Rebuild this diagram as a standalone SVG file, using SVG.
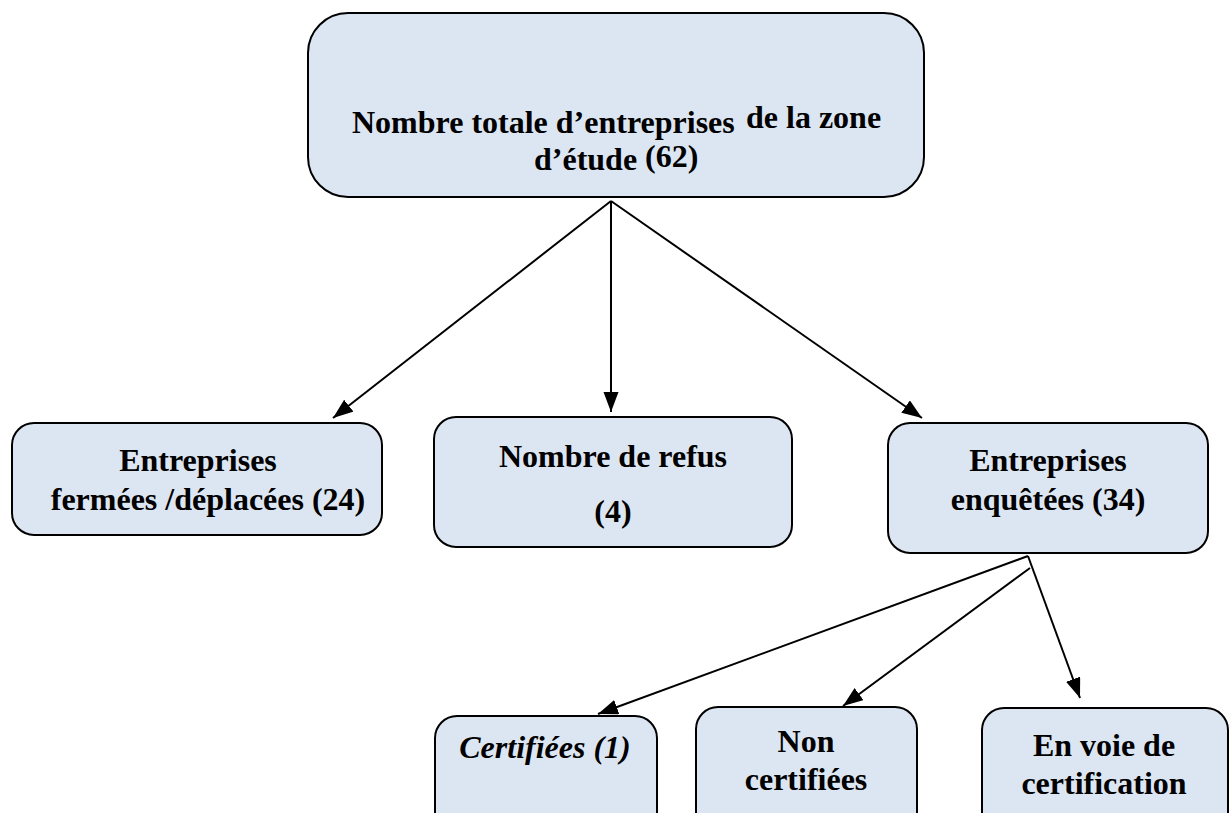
<svg xmlns="http://www.w3.org/2000/svg" width="1230" height="813" viewBox="0 0 1230 813">
<style>
.box{fill:#dce6f2;stroke:#000;stroke-width:2}
.t{font-family:"Liberation Serif","Times New Roman",serif;font-weight:bold;font-size:32px;fill:#000;text-anchor:middle}
.s{text-anchor:start}
.i{font-style:italic}
.c{stroke:#000;stroke-width:2;fill:none;marker-end:url(#ah)}
</style>
<defs>
<marker id="ah" markerUnits="userSpaceOnUse" markerWidth="22" markerHeight="16" refX="20" refY="7.5" orient="auto">
<path d="M0,0 L20,7.5 L0,15 Z" fill="#000"/>
</marker>
</defs>
<rect width="1230" height="813" fill="#fff"/>
<g id="connectors">
<line class="c" x1="611" y1="201" x2="333" y2="418"/>
<line class="c" x1="611" y1="201" x2="611" y2="412"/>
<line class="c" x1="611" y1="201" x2="922" y2="418"/>
<line class="c" x1="1028" y1="556" x2="598" y2="714"/>
<line class="c" x1="1030" y1="568" x2="843" y2="706"/>
<line class="c" x1="1028" y1="556" x2="1080" y2="698"/>
</g>
<g id="n-total">
<rect class="box" x="308" y="13" width="616" height="184" rx="40" ry="40"/>
<text class="t s" x="352" y="133">Nombre totale d’entreprises</text>
<text class="t s" x="746" y="128">de la zone</text>
<text class="t s" x="534" y="170">d’étude</text>
<text class="t s" x="645" y="167">(62)</text>
</g>
<g id="n-fermees">
<rect class="box" x="12" y="423" width="370" height="112" rx="22" ry="22"/>
<text class="t" x="198" y="471">Entreprises</text>
<text class="t" x="208" y="510">fermées /déplacées (24)</text>
</g>
<g id="n-refus">
<rect class="box" x="434" y="417" width="358" height="130" rx="22" ry="22"/>
<text class="t" x="613" y="467">Nombre de refus</text>
<text class="t" x="613" y="522">(4)</text>
</g>
<g id="n-enquetees">
<rect class="box" x="888" y="423" width="320" height="130" rx="22" ry="22"/>
<text class="t" x="1048" y="471">Entreprises</text>
<text class="t" x="1048" y="510">enquêtées (34)</text>
</g>
<g id="n-certifiees">
<rect class="box" x="435" y="716" width="222" height="120" rx="22" ry="22"/>
<text class="t i" x="545" y="758">Certifiées (1)</text>
</g>
<g id="n-noncertifiees">
<rect class="box" x="696" y="707" width="221" height="130" rx="22" ry="22"/>
<text class="t" x="806" y="752">Non</text>
<text class="t" x="806" y="790">certifiées</text>
</g>
<g id="n-envoie">
<rect class="box" x="982" y="708" width="246" height="130" rx="22" ry="22"/>
<text class="t" x="1104" y="756">En voie de</text>
<text class="t" x="1104" y="794">certification</text>
</g>
</svg>
